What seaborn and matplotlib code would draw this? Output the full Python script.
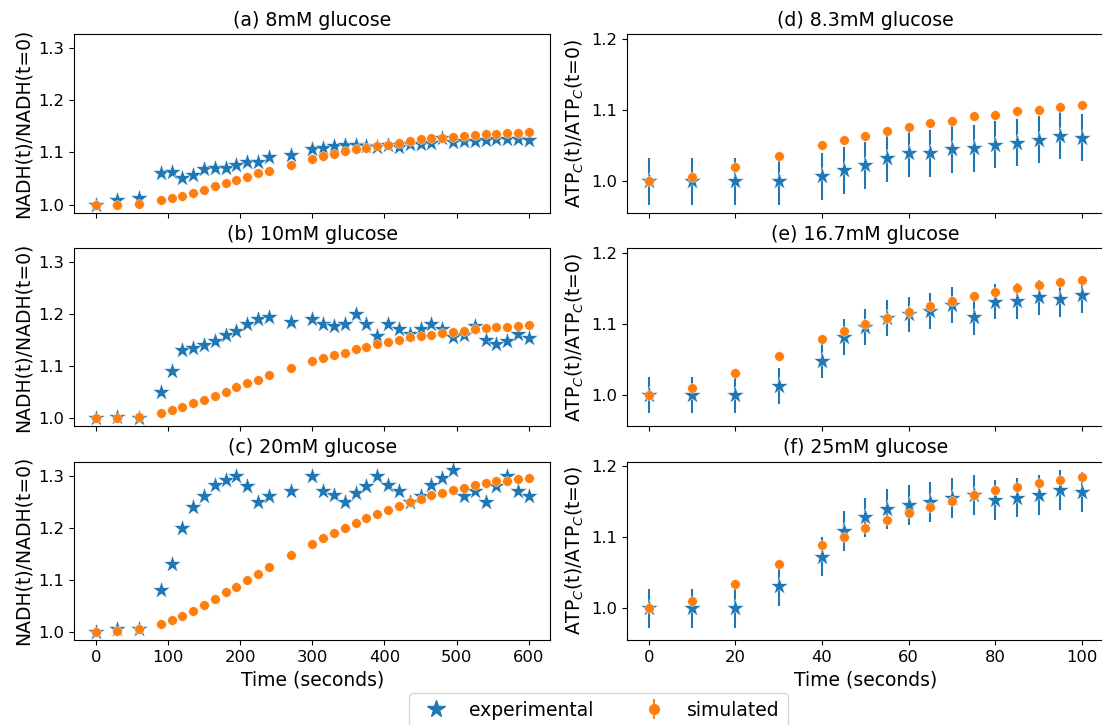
import numpy as np
import pandas as pd
import matplotlib
matplotlib.use("Agg")
import matplotlib.pyplot as plt
import seaborn as sns
from matplotlib.lines import Line2D
from matplotlib.legend_handler import HandlerTuple

# ---- NADH time course (seconds) ----
t_nadh = [0, 30, 60, 90, 105, 120, 135, 150, 165, 180, 195, 210, 225, 240, 270,
          300, 315, 330, 345, 360, 375, 390, 405, 420, 435, 450, 465, 480, 495,
          510, 525, 540, 555, 570, 585, 600]

nadh_8_exp = [1.000, 1.008, 1.013, 1.061, 1.062, 1.050, 1.057, 1.069, 1.070, 1.071,
              1.075, 1.081, 1.081, 1.091, 1.095, 1.107, 1.108, 1.112, 1.114, 1.114,
              1.112, 1.111, 1.114, 1.111, 1.117, 1.116, 1.118, 1.127, 1.120, 1.121,
              1.122, 1.123, 1.125, 1.125, 1.126, 1.123]
nadh_8_sim = [1.000, 1.000, 1.002, 1.009, 1.012, 1.017, 1.023, 1.028, 1.035, 1.041,
              1.048, 1.053, 1.060, 1.065, 1.076, 1.087, 1.093, 1.096, 1.102, 1.106,
              1.109, 1.112, 1.115, 1.119, 1.121, 1.125, 1.127, 1.128, 1.130, 1.132,
              1.133, 1.135, 1.135, 1.137, 1.137, 1.139]

nadh_10_exp = [1.000, 1.003, 1.001, 1.050, 1.090, 1.130, 1.135, 1.140, 1.149, 1.160,
               1.168, 1.180, 1.191, 1.195, 1.184, 1.191, 1.180, 1.177, 1.180, 1.200,
               1.180, 1.157, 1.181, 1.172, 1.162, 1.172, 1.181, 1.172, 1.156, 1.159,
               1.176, 1.151, 1.143, 1.149, 1.161, 1.153]
nadh_10_sim = [1.000, 1.000, 1.003, 1.011, 1.016, 1.021, 1.029, 1.035, 1.043, 1.051,
               1.059, 1.068, 1.074, 1.082, 1.096, 1.110, 1.115, 1.121, 1.126, 1.132,
               1.137, 1.142, 1.146, 1.151, 1.155, 1.158, 1.160, 1.163, 1.165, 1.168,
               1.171, 1.173, 1.175, 1.175, 1.177, 1.178]

nadh_20_exp = [1.000, 1.005, 1.005, 1.081, 1.130, 1.199, 1.239, 1.260, 1.281, 1.291,
               1.300, 1.279, 1.249, 1.260, 1.271, 1.300, 1.271, 1.262, 1.249, 1.266,
               1.280, 1.300, 1.281, 1.271, 1.250, 1.260, 1.281, 1.295, 1.311, 1.260,
               1.271, 1.249, 1.280, 1.300, 1.271, 1.260]
nadh_20_sim = [1.000, 1.001, 1.005, 1.015, 1.023, 1.031, 1.040, 1.052, 1.064, 1.077,
               1.087, 1.099, 1.111, 1.124, 1.147, 1.168, 1.180, 1.190, 1.200, 1.209,
               1.218, 1.226, 1.234, 1.242, 1.249, 1.255, 1.262, 1.267, 1.272, 1.276,
               1.281, 1.285, 1.289, 1.290, 1.294, 1.295]

# ---- cytosolic ATP time course (seconds) ----
t_atp = [0, 10, 20, 30, 40, 45, 50, 55, 60, 65, 70, 75, 80, 85, 90, 95, 100]

atp_83_exp = [1.000, 1.000, 1.000, 1.000, 1.007, 1.015, 1.022, 1.032, 1.039, 1.039,
              1.045, 1.046, 1.051, 1.054, 1.058, 1.064, 1.061]
atp_83_err = [0.033] * 17
atp_83_sim = [1.000, 1.006, 1.020, 1.035, 1.051, 1.058, 1.064, 1.071, 1.076, 1.082,
              1.085, 1.091, 1.093, 1.098, 1.100, 1.104, 1.107]

atp_167_exp = [1.000, 1.000, 1.000, 1.012, 1.048, 1.081, 1.095, 1.108, 1.113, 1.118,
               1.126, 1.109, 1.131, 1.132, 1.137, 1.134, 1.140]
atp_167_err = [0.025] * 17
atp_167_sim = [1.000, 1.009, 1.031, 1.054, 1.078, 1.089, 1.099, 1.108, 1.117, 1.125,
               1.132, 1.139, 1.145, 1.150, 1.154, 1.159, 1.162]

atp_25_exp = [1.000, 1.000, 1.000, 1.032, 1.073, 1.109, 1.128, 1.140, 1.146, 1.150,
              1.155, 1.159, 1.152, 1.156, 1.160, 1.167, 1.164]
atp_25_err = [0.028] * 17
atp_25_sim = [1.000, 1.010, 1.034, 1.062, 1.089, 1.101, 1.113, 1.125, 1.134, 1.143,
              1.151, 1.159, 1.166, 1.171, 1.176, 1.181, 1.185]

nadh_titles = ["(a) 8mM glucose", "(b) 10mM glucose", "(c) 20mM glucose"]
atp_titles = ["(d) 8.3mM glucose", "(e) 16.7mM glucose", "(f) 25mM glucose"]

C_EXP = "#1f77b4"
C_SIM = "#ff7f0e"
STAR_S = 170
DOT_S = 48

TICK_FS = 11.8
LABEL_FS = 13.5
TITLE_FS = 13.7
LEG_FS = 13.5

fig, axes = plt.subplots(3, 2, figsize=(11.02, 7.25), dpi=100,
                         sharex="col", sharey="col")
fig.subplots_adjust(left=0.0672, right=1.0015, top=0.9527, bottom=0.1172,
                    wspace=0.161, hspace=0.198)

nadh_sets = [(nadh_8_exp, nadh_8_sim), (nadh_10_exp, nadh_10_sim),
             (nadh_20_exp, nadh_20_sim)]
atp_sets = [(atp_83_exp, atp_83_err, atp_83_sim),
            (atp_167_exp, atp_167_err, atp_167_sim),
            (atp_25_exp, atp_25_err, atp_25_sim)]

for i, (exp, sim) in enumerate(nadh_sets):
    ax = axes[i, 0]
    df = pd.DataFrame({"t": t_nadh, "exp": exp, "sim": sim})
    sns.scatterplot(data=df, x="t", y="exp", marker="*", s=STAR_S, color=C_EXP,
                    edgecolor="white", linewidth=0.3, ax=ax, zorder=2)
    sns.scatterplot(data=df, x="t", y="sim", marker="o", s=DOT_S, color=C_SIM,
                    edgecolor="white", linewidth=0.3, ax=ax, zorder=3)
    ax.set_title(nadh_titles[i], fontsize=TITLE_FS)
    ax.set_ylabel("NADH(t)/NADH(t=0)", fontsize=LABEL_FS)
    ax.set_xlabel("")

for i, (exp, err, sim) in enumerate(atp_sets):
    ax = axes[i, 1]
    df = pd.DataFrame({"t": t_atp, "exp": exp, "err": err, "sim": sim})
    ax.errorbar(df["t"], df["exp"], yerr=df["err"], fmt="none", ecolor=C_EXP,
                elinewidth=1.5, zorder=1)
    sns.scatterplot(data=df, x="t", y="exp", marker="*", s=STAR_S, color=C_EXP,
                    edgecolor="white", linewidth=0.3, ax=ax, zorder=2)
    sns.scatterplot(data=df, x="t", y="sim", marker="o", s=DOT_S, color=C_SIM,
                    edgecolor="white", linewidth=0.3, ax=ax, zorder=3)
    ax.set_title(atp_titles[i], fontsize=TITLE_FS)
    ax.set_ylabel(r"ATP$_C$(t)/ATP$_C$(t=0)", fontsize=LABEL_FS)
    ax.set_xlabel("")

for ax in axes.flat:
    ax.tick_params(labelsize=TICK_FS)
    ax.margins(0.05)

axes[2, 0].set_xlabel("Time (seconds)", fontsize=LABEL_FS)
axes[2, 1].set_xlabel("Time (seconds)", fontsize=LABEL_FS)

# legend shared by all panels
exp_handle = Line2D([], [], ls="none", marker="*", ms=13, color=C_EXP)
sim_bar = Line2D([], [], ls="none", marker="|", ms=14, mew=1.5, color=C_SIM)
sim_dot = Line2D([], [], ls="none", marker="o", ms=7, color=C_SIM)
fig.legend([exp_handle, (sim_bar, sim_dot)], ["experimental", "simulated"],
           handler_map={tuple: HandlerTuple(ndivide=1)},
           loc="upper center", bbox_to_anchor=(0.543, 0.0437), borderaxespad=0,
           ncol=2, fontsize=LEG_FS, columnspacing=2.2, frameon=True)

fig.savefig("out.png", dpi=100)
